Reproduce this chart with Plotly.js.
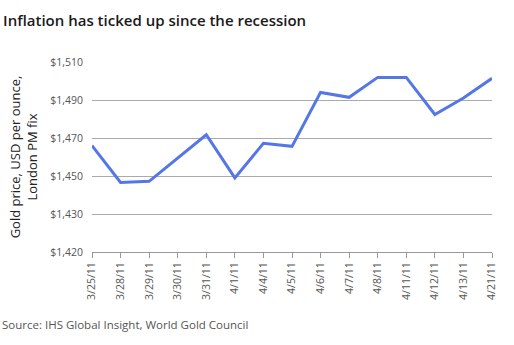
<!DOCTYPE html>
<html>
<head>
<meta charset="utf-8">
<script src="https://cdn.plot.ly/plotly-3.0.1.min.js"></script>
<style>html,body{margin:0;padding:0;background:#fff;}#chart{width:514px;height:345px;}</style>
</head>
<body>
<div id="chart"></div>
<script>
const dates = ["3/25/11","3/28/11","3/29/11","3/30/11","3/31/11","4/1/11","4/4/11","4/5/11","4/6/11","4/7/11","4/8/11","4/11/11","4/12/11","4/13/11","4/21/11"];
const goldPrice = [1466, 1446.6, 1447.2, 1459.5, 1471.7, 1449, 1467.2, 1465.6, 1494, 1491.4, 1501.9, 1501.9, 1482.4, 1491, 1501.4];
// The original axis puts $1,420 one full grid step below $1,430
const yTickVals = [1410, 1430, 1450, 1470, 1490, 1510];
const yTickText = ["$1,420", "$1,430", "$1,450", "$1,470", "$1,490", "$1,510"];

const font = "'Open Sans', sans-serif";
const trace = {
  x: dates, y: goldPrice, type: "scatter", mode: "lines",
  line: {color: "#5577E6", width: 3},
  hoverinfo: "skip"
};
const layout = {
  width: 514, height: 345,
  margin: {l: 92, r: 22, t: 62, b: 93},
  paper_bgcolor: "#fff", plot_bgcolor: "#fff",
  showlegend: false,
  title: {text: "Inflation has ticked up since the recession", x: 0.006, xanchor: "left", y: 0.94, yanchor: "middle",
          font: {family: font, size: 15, color: "#1a1a1a", weight: 600}},
  xaxis: {
    type: "category", range: [0, 14],
    showline: true, linecolor: "#999", linewidth: 1,
    ticks: "outside", ticklen: 5, tickcolor: "#999",
    showgrid: false, tickangle: -90,
    tickfont: {family: font, size: 10.5, color: "#555"}
  },
  yaxis: {
    range: [1410, 1510], tickvals: yTickVals, ticktext: yTickText,
    showgrid: true, gridcolor: "#aaa", gridwidth: 1,
    zeroline: false, showline: false, ticks: "", ticklabelstandoff: 8,
    tickfont: {family: font, size: 10.5, color: "#555"},
    title: {text: "Gold price, USD per ounce,<br>London PM fix", standoff: 9,
            font: {family: font, size: 13, color: "#222"}}
  },
  annotations: [{
    text: "Source: IHS Global Insight, World Gold Council", xref: "paper", yref: "paper",
    x: -92/400, xanchor: "left", y: -(324-252)/190, yanchor: "middle", showarrow: false,
    font: {family: font, size: 11.5, color: "#555"}
  }]
};
Plotly.newPlot("chart", [trace], layout, {staticPlot: true, displayModeBar: false});
</script>
</body>
</html>
